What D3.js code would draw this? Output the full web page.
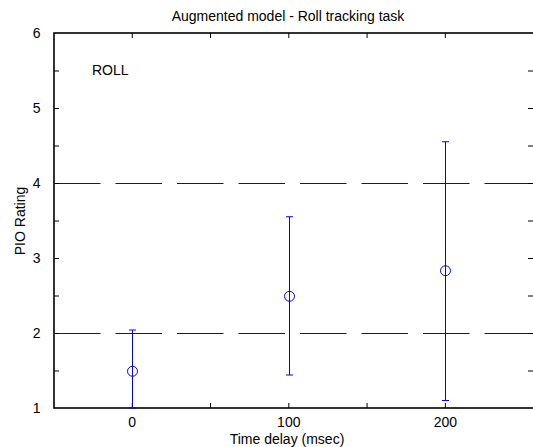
<!DOCTYPE html>
<html>
<head>
<meta charset="utf-8">
<script src="https://cdn.jsdelivr.net/npm/d3@7"></script>
<style>
  html, body { margin: 0; padding: 0; background: #fff; }
  svg { display: block; font-family: "Liberation Sans", Arial, sans-serif; }
</style>
</head>
<body>
<svg id="chart" width="533" height="447"></svg>
<script>
// data
var delays = [0, 100, 200];
var meanRating = [1.49, 2.49, 2.83];
var lowRating = [1.0, 1.44, 1.1];
var highRating = [2.04, 3.55, 4.55];
var refLevels = [2, 4];
var xTickLabels = [0, 100, 200];
var yTickLabels = [1, 2, 3, 4, 5, 6];

var svg = d3.select('#chart');
// note: "top" is reserved on window, so use plot* names
var plotLeft = 54, plotRight = 533, plotTop = 33, plotBottom = 408;

var x = d3.scaleLinear().domain([-50, 256]).range([plotLeft, plotRight]);
var y = d3.scaleLinear().domain([1, 6]).range([plotBottom, plotTop]);

var blue = '#0000ff';
var fontSize = 14;

// reference dashed lines (half-pixel shift keeps them sharp)
svg.append('g').selectAll('line')
    .data(refLevels)
    .enter()
    .append('line')
    .attr('x1', plotLeft).attr('x2', plotRight)
    .attr('y1', function (d) { return y(d) + 0.5; })
    .attr('y2', function (d) { return y(d) + 0.5; })
    .attr('stroke', blue)
    .attr('stroke-width', 1)
    .attr('stroke-dasharray', '46.5,15');

// frame
svg.append('rect')
    .attr('x', plotLeft).attr('y', plotTop)
    .attr('width', plotRight - plotLeft + 2).attr('height', plotBottom - plotTop)
    .attr('fill', 'none')
    .attr('stroke', 'black')
    .attr('stroke-width', 1.6);

// ticks pointing inward
var xTicks = d3.range(0, 250, 50);
var yTicks = d3.range(1.5, 6, 0.5);
var tickLen = 5;
var tg = svg.append('g').attr('stroke', 'black').attr('stroke-width', 1);
xTicks.forEach(function (t) {
    tg.append('line').attr('x1', x(t)).attr('x2', x(t)).attr('y1', plotBottom).attr('y2', plotBottom - tickLen);
    tg.append('line').attr('x1', x(t)).attr('x2', x(t)).attr('y1', plotTop).attr('y2', plotTop + tickLen);
});
yTicks.forEach(function (t) {
    tg.append('line').attr('x1', plotLeft).attr('x2', plotLeft + tickLen).attr('y1', y(t) + 0.5).attr('y2', y(t) + 0.5);
    tg.append('line').attr('x1', plotRight - tickLen).attr('x2', plotRight).attr('y1', y(t) + 0.5).attr('y2', y(t) + 0.5);
});

// tick labels
svg.append('g').selectAll('text')
    .data(xTickLabels)
    .enter()
    .append('text')
    .attr('x', function (d) { return x(d); })
    .attr('y', 426.5)
    .attr('text-anchor', 'middle')
    .attr('font-size', fontSize)
    .text(function (d) { return d; });

svg.append('g').selectAll('text')
    .data(yTickLabels)
    .enter()
    .append('text')
    .attr('x', 40.5)
    .attr('y', function (d) { return y(d) + 5; })
    .attr('text-anchor', 'end')
    .attr('font-size', fontSize)
    .text(function (d) { return d; });

// error bars, hollow circles
var pts = delays.map(function (d, i) {
    return { x: d, m: meanRating[i], lo: lowRating[i], hi: highRating[i] };
});
var eb = svg.append('g').attr('stroke', blue).attr('stroke-width', 1).attr('fill', 'none');
var capW = 3.5;
pts.forEach(function (p) {
    var cx = Math.round(x(p.x)) + 0.5;
    eb.append('line').attr('x1', cx).attr('x2', cx).attr('y1', y(p.lo)).attr('y2', y(p.hi));
    eb.append('line').attr('x1', cx - capW).attr('x2', cx + capW).attr('y1', y(p.lo)).attr('y2', y(p.lo));
    eb.append('line').attr('x1', cx - capW).attr('x2', cx + capW).attr('y1', y(p.hi)).attr('y2', y(p.hi));
    eb.append('circle').attr('cx', cx).attr('cy', y(p.m)).attr('r', 5);
});

// texts
svg.append('text')
    .attr('x', 288).attr('y', 20.5)
    .attr('text-anchor', 'middle')
    .attr('font-size', fontSize)
    .text('Augmented model - Roll tracking task');

svg.append('text')
    .attr('x', 92).attr('y', 74.5)
    .attr('font-size', fontSize)
    .text('ROLL');

svg.append('text')
    .attr('x', 287).attr('y', 443.5)
    .attr('text-anchor', 'middle')
    .attr('font-size', fontSize)
    .text('Time delay (msec)');

svg.append('text')
    .attr('transform', 'translate(24.5,221) rotate(-90)')
    .attr('text-anchor', 'middle')
    .attr('font-size', fontSize)
    .text('PIO Rating');
</script>
</body>
</html>
